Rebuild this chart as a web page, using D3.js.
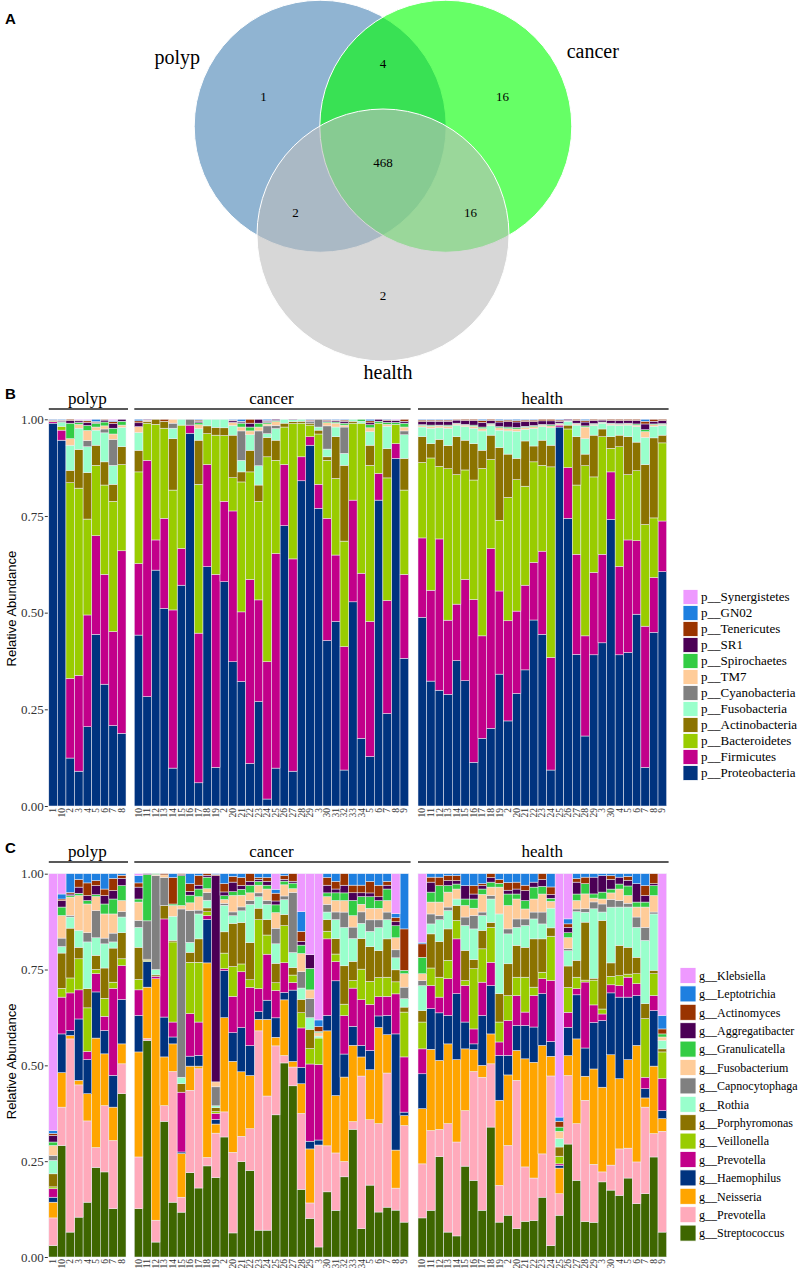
<!DOCTYPE html>
<html>
<head>
<meta charset="utf-8">
<script src="https://cdn.jsdelivr.net/npm/d3@7"></script>
<style>
  body { margin: 0; background: #fff; }
  svg { display: block; }
</style>
</head>
<body>
<svg id="fig" width="804" height="1280"></svg>
<script>
// ---------- data ----------
var groups = ['polyp', 'cancer', 'health']
var polypLabels = ['1','10','2','3','4','5','6','7','8']
var cancerLabels = ['10','11','12','13','14','15','16','17','18','19','2','20','21','22','23','24','25','26','27','28','29','3','30','31','32','33','34','5','6','7','8','9']
var healthLabels = ['10','11','12','13','14','15','16','17','18','19','2','20','21','22','23','24','25','26','27','28','29','3','30','4','5','6','7','8','9']
var sampleLabels = [polypLabels, cancerLabels, healthLabels]

// venn counts
var vennRegions = ['polyp', 'cancer', 'health', 'polyp&cancer', 'polyp&health', 'cancer&health', 'all']
var vennCounts = [1, 16, 2, 4, 2, 16, 468]

// panel B, phylum level (stacked bottom -> top)
var phyla = ['Proteobacteria','Firmicutes','Bacteroidetes','Actinobacteria','Fusobacteria','Cyanobacteria','TM7','Spirochaetes','SR1','Tenericutes','GN02','Synergistetes']
var phylumColors = ['#00337f','#c2008a','#99cc00','#8b7300','#99ffcc','#808080','#ffcc99','#33cc44','#4b0055','#993300','#1e7fe0','#ee99ff']

var proteobacteria = [
  .99,.946,.124,.09,.205,.444,.315,.208,.188,
  .442,.283,.61,.511,.098,.571,.964,.06,.619,.1,.58,.373,.322,.11,.27,.018,.098,.725,.09,.841,.933,.77,.428,.477,.093,.528,.175,.128,.791,.24,.899,.382,
  .49,.323,.3,.289,.376,.324,.113,.175,.201,.341,.22,.291,.352,.481,.444,.093,.98,.744,.392,.181,.391,.422,.741,.391,.397,.496,.1,.449,.606]
var firmicutes = [
  .004,.026,.206,.248,.289,.255,.284,.243,.472,
  .185,.611,.078,.233,.409,.095,.021,.387,.264,.499,.208,.39,.18,.476,.263,.355,.555,.158,.549,.062,.022,.062,.316,.172,.319,.263,.427,.349,.069,.293,.038,.217,
  .206,.235,.392,.192,.146,.262,.421,.265,.465,.215,.259,.213,.219,.149,.215,.291,.005,.131,.259,.259,.213,.229,.123,.229,.291,.19,.365,.142,.131]
var bacteroidetes = [
  .002,.01,.506,.484,.248,.182,.231,.337,.223,
  .237,.096,.299,.233,.31,.319,0,.385,.08,.36,.17,.086,.336,.278,.255,.53,.241,.097,.35,.087,.03,.13,.15,.198,.273,.199,.388,.404,.13,.318,.05,.218,
  .196,.342,.188,.392,.335,.283,.309,.433,.23,.183,.319,.34,.256,.26,.222,.493,0,.1,.179,.44,.247,.304,.061,.309,.169,.181,.263,.154,.202]
var actinobacteria = [
  0,0,.032,.1,.12,.052,.06,.044,.046,
  .056,.005,.013,.018,.133,0,0,.114,.02,.02,.02,.11,.026,.056,.042,.05,.052,.01,.005,.005,.005,.01,.009,.108,.196,.005,0,.052,0,.076,0,.082,
  .067,.037,.07,.06,.098,.077,.094,.047,.063,.188,.112,.055,.117,.041,.065,.056,0,.01,.125,.03,.108,.02,.03,.03,.098,.074,.155,.207,.02]
var fusobacteria = [
  0,.01,.065,.055,.067,.039,.075,.049,.05,
  .046,0,0,0,.027,.015,0,.03,.017,.021,.022,.025,.03,.04,.05,.01,.03,.01,.005,.005,0,.008,.02,.025,.031,.005,.005,.035,0,.058,0,.061,
  .025,.04,.03,.045,.03,.035,.04,.05,.025,.045,.06,.07,.03,.045,.035,.045,0,.01,.03,.04,.025,.015,.03,.025,.03,.04,.07,.03,.025]
var cyanobacteria = [
  0,0,0,0,.016,0,.01,.067,0,
  0,0,0,0,.013,0,.015,0,0,0,0,0,.076,0,.09,.02,.008,0,0,0,.005,.02,.06,0,.068,0,0,0,0,0,0,.01,
  0,0,0,0,0,0,0,0,0,0,0,0,0,0,0,0,0,0,0,0,0,0,0,0,0,0,0,0,0]
var tm7 = [
  0,0,.017,.01,.026,.008,.008,.014,.006,
  .015,.003,0,0,.01,0,0,.01,0,0,0,.008,.01,.01,.01,.005,.01,0,0,0,0,0,.008,.01,.005,0,0,.01,0,.005,0,.01,
  .004,.005,.005,.005,.003,.004,.005,.006,.003,.006,.006,.006,.005,.005,.004,.005,.003,.001,.003,.03,.003,.002,.003,.003,.003,.004,.015,.004,.003]
var spirochaetes = [
  0,.002,.04,.005,.013,.01,.01,.015,.01,
  0,0,0,0,0,0,0,.005,0,0,0,0,.01,.01,.01,.004,.003,0,0,0,0,0,.003,.003,.005,0,.005,.008,.005,.005,.005,.01,
  .002,.003,.002,.003,.002,.002,.003,.004,.002,.003,.004,.004,.003,.003,.002,.003,.002,.001,.002,.003,.002,.001,.002,.002,.002,.003,.005,.002,.002]
var sr1 = [
  .002,.002,.007,.004,.008,.002,.005,.012,.005,
  .01,.002,0,0,0,0,0,.004,0,0,0,.004,.003,.01,.01,.003,.003,0,.001,0,.002,0,.003,.003,.005,0,0,.005,.005,.005,.005,.005,
  .008,.01,.01,.01,.008,.01,.012,.012,.008,.012,.014,.014,.012,.01,.009,.01,.005,.003,.007,.01,.008,.005,.007,.008,.007,.009,.015,.007,.008]
var tenericutes = [
  .001,.002,.003,.002,.004,.002,.002,.005,0,
  .005,0,0,.005,0,0,0,.003,0,0,0,.002,.002,.01,0,.002,0,0,0,0,.002,0,.002,.002,.003,0,0,.005,0,.002,.001,.005,
  .004,.003,.003,.003,.002,.003,.003,.005,.003,.004,.004,.004,.004,.004,.004,.004,.003,0,.003,.004,.003,.002,.003,.003,.003,.003,.007,.005,.003]
var gn02 = [
  .001,.002,0,0,.002,.006,0,.003,0,
  .004,0,0,0,0,0,0,.002,0,0,0,.002,.005,0,0,.003,0,0,0,0,.001,0,.001,.002,.002,0,0,.004,0,.001,.001,0,
  .002,.002,.002,.002,0,0,0,.003,0,.003,.002,.003,.002,.002,0,0,.002,0,0,.003,0,0,0,0,0,0,.005,0,0]
var synergistetes = [
  0,0,0,.002,.002,0,0,.003,0,
  0,0,0,0,0,0,0,0,0,0,0,0,0,0,0,0,0,0,0,0,0,0,0,0,0,0,0,0,0,0,.001,0,
  0,0,0,0,0,0,0,0,0,0,0,0,0,0,0,0,0,0,0,0,0,0,0,0,0,0,0,0,0]
var phylumValues = [proteobacteria, firmicutes, bacteroidetes, actinobacteria, fusobacteria, cyanobacteria, tm7, spirochaetes, sr1, tenericutes, gn02, synergistetes]

// panel C, genus level (stacked bottom -> top); two different Prevotella entries
var genusKeys = ['Streptococcus','PrevotellaA','Neisseria','Haemophilus','PrevotellaB','Veillonella','Porphyromonas','Rothia','Capnocytophaga','Fusobacterium','Granulicatella','Aggregatibacter','Actinomyces','Leptotrichia','Klebsiella']
var genusNames = ['Streptococcus','Prevotella','Neisseria','Haemophilus','Prevotella','Veillonella','Porphyromonas','Rothia','Capnocytophaga','Fusobacterium','Granulicatella','Aggregatibacter','Actinomyces','Leptotrichia','Klebsiella']
var genusColors = ['#3e6600','#ffaabb','#ffa500','#00337f','#c2008a','#99cc00','#8b7300','#99ffcc','#808080','#ffcc99','#33cc44','#4b0055','#993300','#1e7fe0','#ee99ff']

var streptococcus = [
  .03,.291,.065,.104,.143,.235,.222,.126,.426,
  .126,.565,.039,.354,.143,.117,.22,.18,.237,.209,.316,.063,.244,.226,.07,.07,.365,.523,.456,.178,.1,.026,.17,.122,.209,.335,.074,.187,.117,.13,.117,.091,
  .102,.122,.262,.065,.055,.237,.2,.122,.339,.091,.109,.074,.093,.095,.156,.03,.109,.295,.2,.093,.091,.196,.174,.161,.206,.139,.165,.261,.065]
var prevotellaA = [
  .072,.1,.504,.345,.212,.052,.173,.178,.078,
  .135,.005,.057,.041,.341,.039,.215,.311,.022,.117,.066,.211,.065,.109,.52,.35,.177,.02,.05,.2,.04,.265,.12,.15,.04,.02,.4,.17,.23,.35,.055,.252,
  .141,.208,.071,.283,.245,.145,.284,.347,.165,.096,.182,.387,.142,.111,.113,.448,.056,.179,.148,.318,.152,.026,.065,.121,.078,.109,.226,.061,.263]
var neisseria = [
  .041,.09,.009,.012,.071,.287,.135,.087,.052,
  .274,.134,.63,.127,.072,.114,.063,.007,.506,.024,.248,.238,.165,.139,.03,.2,.022,.15,.015,.078,.14,0,.3,.15,.22,.2,.05,.13,.25,.1,.095,.026,
  .144,.212,.18,.208,.215,.161,.057,.031,.078,.222,.184,.078,.282,.302,.283,.052,.067,.052,.221,.063,.25,.221,.287,.183,.231,.304,.024,.176,.033]
var haemophilus = [
  .013,.101,.013,.16,.089,.121,.061,.083,.116,
  .095,.067,0,.104,.018,.004,.026,.028,.113,.012,.124,.075,.113,.078,.02,.05,.05,.02,.19,.043,.02,.013,.04,.3,.06,.05,.03,.05,.03,.05,.29,.009,
  .091,.106,.124,.074,.172,.07,.015,.13,.126,.117,.051,.065,.087,.092,.135,.039,.007,.074,.115,.074,.122,.174,.161,.213,.163,.13,.024,.145,.021]
var prevotellaB = [
  .022,.096,.098,.076,.021,.048,.037,.227,.088,
  .067,0,.006,.256,.039,.156,.111,.087,.01,.016,.005,.095,.143,.152,.06,.12,.07,.08,.02,.104,.2,.196,.2,.05,.1,.1,.12,.12,.05,.05,.1,.144,
  .065,.06,.041,.096,.143,.095,.039,.087,.061,.035,.091,.078,.035,.082,.039,.161,.004,.039,.016,.173,.046,.017,.021,.03,.052,.031,.03,.039,.083]
var veillonella = [
  .005,.023,.039,.081,.114,.011,.047,.016,.018,
  .027,.003,0,0,.209,0,.134,.156,.01,.005,.041,.078,.02,.02,.18,.05,.02,.1,.02,.04,.04,.069,.02,.02,.03,.02,.08,.06,.05,.05,.03,.117,
  .07,.046,.052,.048,.048,.013,.157,.087,.091,.052,.065,.048,.091,.022,.017,.117,.02,.065,.03,.005,.065,.013,.022,.026,.008,.026,.153,.057,.07]
var porphyromonas = [
  .034,.092,.13,.03,.05,.037,.079,.089,.068,
  .084,.003,.004,.035,.004,.022,.026,.061,.01,.01,.056,.113,.106,.097,.03,.04,.05,.03,.02,.035,.05,0,.03,.04,.1,.05,.08,.09,.07,.1,.03,.013,
  .03,.089,.093,.082,.039,.079,.024,.048,.013,.074,.083,.083,.078,.126,.087,.022,.024,.056,.044,.152,.005,.231,.035,.079,.07,.043,.039,.009,.008]
var rothia = [
  .035,.017,.029,.044,.122,.046,.063,.016,.041,
  .052,0,.014,0,.063,.017,.026,.065,.02,.005,.07,.02,.03,.1,.03,.04,.05,.04,.04,.03,.03,.005,.02,.05,.1,.06,.04,.04,.06,.05,.03,.022,
  .065,.026,.057,.048,.017,.065,.08,.039,.061,.208,.078,.047,.057,.052,.039,.052,.022,.04,.127,.026,.182,.022,.145,.1,.105,.078,.165,.147,.022]
var capnocytophaga = [
  .013,.022,.004,0,.024,.071,.015,.023,.014,
  .018,.1,.245,.073,0,.439,.083,.01,.02,.05,.005,.01,.01,.01,.01,.01,.04,.01,.16,.043,.05,0,.02,.02,.04,.03,.03,.03,.02,.02,.02,.03,
  .013,.026,.011,.009,0,.022,.035,.009,.009,0,.013,.022,.017,.018,.031,0,0,.005,.007,.009,.018,.021,.02,.017,.01,.027,.034,.005,0]
var fusobacterium = [
  .026,.059,.048,.091,.075,.037,.063,.05,.029,
  .048,0,.003,.007,.028,.009,.02,.035,.01,.013,.01,.043,.03,.02,.02,.03,.04,.03,.01,.048,.022,.009,.02,.03,.03,.03,.02,.03,.03,.03,.03,.035,
  .018,.031,.035,.039,.026,.03,.019,.046,.022,.07,.061,.052,.026,.034,.047,.018,.019,.029,.022,.039,.01,.013,.017,.03,.02,.026,.053,.043,.009]
var granulicatella = [
  .009,.022,.004,.006,.009,.005,.026,.039,.039,
  .008,.121,.002,0,.004,.078,.02,.02,.03,0,.01,.01,.015,.02,.01,.01,.02,.01,.015,.022,.056,.003,.01,.02,.02,.04,.02,.03,.02,.03,.03,.009,
  .043,.026,.043,.017,.013,.017,.024,.014,.013,.01,.03,.013,.022,.031,.02,.008,.011,.013,.017,.027,.011,.018,.01,.013,.025,.013,.013,.026,.008]
var aggregatibacter = [
  .017,.017,.004,.016,.013,.024,.022,.022,.019,
  .031,.002,0,0,0,.003,.01,.01,.005,.543,.01,.025,.01,.01,.005,.01,.01,.005,.005,.01,.035,0,.02,.01,.02,.02,.01,.01,.01,.01,.01,0,
  0,.026,0,.013,.009,.035,.013,.009,.012,0,.01,.013,.026,.013,.018,.01,0,.014,.031,0,.044,.043,.025,.018,.015,.048,.017,.005,0]
var actinomyces = [
  .005,.004,.004,.02,.033,.013,.017,.032,.008,
  .011,0,0,.003,.069,.002,.02,.025,.004,.003,.022,.015,.02,.02,.005,.01,.02,.01,.02,.026,0,.013,.02,.02,.03,.02,.02,.03,.03,.01,.01,.108,
  .035,.013,.022,.013,.013,0,.022,.005,.01,.01,.02,.018,.014,0,.015,.02,.015,.009,.009,.017,0,0,.01,0,.01,0,.026,.026,.013]
var leptotrichia = [
  .008,.013,.049,.015,.024,.018,.04,.012,.004,
  .019,0,0,0,.01,0,.026,.005,0,.002,.026,.007,.01,0,.01,.01,.01,.005,0,.052,0,.017,.01,.02,0,.03,.03,.02,.03,.02,.01,.144,
  .004,.009,.009,.005,.005,.031,.031,.026,0,.015,.023,.022,.03,.022,0,.035,.011,.013,.013,.009,.009,.005,.005,.009,.007,.026,.031,0,.035]
var klebsiella = [
  .67,.053,0,0,0,0,0,0,0,
  .005,0,0,0,0,0,0,0,0,0,0,0,0,0,0,0,.04,0,0,.1,.21,.38,0,0,0,0,0,0,0,0,.1,0,
  .179,0,0,0,0,0,0,0,0,0,0,0,0,0,0,0,.635,.118,0,0,0,0,0,0,0,0,0,0,.37]
var genusValues = [streptococcus, prevotellaA, neisseria, haemophilus, prevotellaB, veillonella, porphyromonas, rothia, capnocytophaga, fusobacterium, granulicatella, aggregatibacter, actinomyces, leptotrichia, klebsiella]

// ---------- drawing ----------
var serif = '"Liberation Serif", "Times New Roman", serif'
var sans = '"Liberation Sans", Arial, sans-serif'
var svg = d3.select('#fig')

function letter(txt, y) {
  svg.append('text').attr('x', 5).attr('y', y)
    .style('font-family', sans).style('font-weight', 'bold').style('font-size', '15px')
    .text(txt)
}

// Panel A: three-set venn
letter('A', 24)
var vennCx = 383, vennCy = 162.5, vennSpread = 72.5, vennR = 126
var vennAngles = [210, 330, 90]
var vennFills = ['rgb(70,130,180)', 'rgb(0,255,0)', 'rgb(188,188,188)']
var vennNameOffsets = [[-143, -62], [147, -68], [5, 144]]
var setPos = vennAngles.map(function(a) {
  var r = a * Math.PI / 180
  return [vennCx + vennSpread * Math.cos(r), vennCy + vennSpread * Math.sin(r)]
})
var vennG = svg.append('g')
vennG.selectAll('circle').data(groups).enter().append('circle')
  .attr('cx', function(d, i) { return setPos[i][0] })
  .attr('cy', function(d, i) { return setPos[i][1] })
  .attr('r', vennR)
  .attr('fill', function(d, i) { return vennFills[i] })
  .attr('fill-opacity', 0.6)
  .attr('stroke', '#ffffff').attr('stroke-width', 1)

vennG.selectAll('text.setname').data(groups).enter().append('text')
  .attr('class', 'setname')
  .attr('x', function(d, i) { return setPos[i][0] + vennNameOffsets[i][0] })
  .attr('y', function(d, i) { return setPos[i][1] + vennNameOffsets[i][1] })
  .attr('text-anchor', 'middle')
  .style('font-family', serif).style('font-size', '20px')
  .text(function(d) { return d })

// region label placement: single sets outward, pairs opposite the missing set, centre for all
function regionPos(name) {
  var parts = name.split('&')
  if (name === 'all') return [vennCx, vennCy]
  if (parts.length === 1) {
    var a = vennAngles[groups.indexOf(name)] * Math.PI / 180
    return [vennCx + 138 * Math.cos(a), vennCy + 133 * Math.sin(a)]
  }
  var missing = groups.filter(function(g) { return parts.indexOf(g) < 0 })[0]
  var b = (vennAngles[groups.indexOf(missing)] + 180) * Math.PI / 180
  return [vennCx + 101 * Math.cos(b), vennCy + 99 * Math.sin(b)]
}
vennG.selectAll('text.count').data(vennRegions).enter().append('text')
  .attr('class', 'count')
  .attr('x', function(d) { return regionPos(d)[0] })
  .attr('y', function(d) { return regionPos(d)[1] + 4.5 })
  .attr('text-anchor', 'middle')
  .style('font-family', serif).style('font-size', '13px')
  .text(function(d, i) { return vennCounts[i] })

// Panels B and C: faceted stacked bars
var facetRanges = [[48.8, 126], [134.3, 408.6], [418, 666.6]]
var xs = facetRanges.map(function(r, gi) {
  return d3.scaleBand().domain(sampleLabels[gi]).range(r).padding(0)
})

function buildRows(keys, arrays) {
  var rows = [], idx = 0
  groups.forEach(function(g, gi) {
    sampleLabels[gi].forEach(function(lab) {
      var row = { gi: gi, label: lab }
      keys.forEach(function(k, j) { row[k] = arrays[j][idx] })
      rows.push(row)
      idx++
    })
  })
  return rows
}

function drawPanel(opt) {
  letter(opt.letter, opt.letterY)
  var y = d3.scaleLinear().domain([0, 1]).range([opt.bottom, opt.top])
  var g = svg.append('g')

  // facet headers
  groups.forEach(function(name, gi) {
    var r = facetRanges[gi]
    g.append('text').attr('x', (r[0] + r[1]) / 2).attr('y', opt.headY)
      .attr('text-anchor', 'middle')
      .style('font-family', serif).style('font-size', '17px')
      .text(name)
    g.append('line').attr('x1', r[0]).attr('x2', r[1] + 2)
      .attr('y1', opt.lineY).attr('y2', opt.lineY)
      .attr('stroke', '#222').attr('stroke-width', 1.3)
  })

  var rows = buildRows(opt.keys, opt.values)
  var layers = d3.stack().keys(opt.keys).offset(d3.stackOffsetExpand)(rows)

  g.selectAll('g.layer').data(layers).enter().append('g')
    .attr('class', 'layer')
    .attr('fill', function(d, j) { return opt.colors[j] })
    .selectAll('rect').data(function(d) { return d }).enter().append('rect')
    .attr('x', function(d) { return xs[d.data.gi](d.data.label) })
    .attr('width', function(d) { return xs[d.data.gi].bandwidth() })
    .attr('y', function(d) { return y(d[1]) })
    .attr('height', function(d) { return Math.max(0, y(d[0]) - y(d[1])) })
    .attr('stroke', '#eeeef6').attr('stroke-width', 0.5)

  // y axis
  var yAxis = d3.axisLeft(y).tickValues([0, 0.25, 0.5, 0.75, 1])
    .tickFormat(d3.format('.2f')).tickSize(3).tickPadding(1)
  var ya = g.append('g').attr('transform', 'translate(' + (facetRanges[0][0] - 1) + ',0)').call(yAxis)
  ya.select('.domain').remove()
  ya.selectAll('line').attr('stroke', '#333')
  ya.selectAll('text').style('font-family', serif).style('font-size', '13px').attr('fill', '#333')

  g.append('text')
    .attr('transform', 'translate(16,' + ((opt.top + opt.bottom) / 2 - 4) + ') rotate(-90)')
    .attr('text-anchor', 'middle')
    .style('font-family', sans).style('font-size', '13px')
    .text('Relative Abundance')

  // x axes, one per facet
  xs.forEach(function(x) {
    var xa = g.append('g').attr('transform', 'translate(0,' + opt.bottom + ')')
      .call(d3.axisBottom(x).tickSize(0))
    xa.select('.domain').remove()
    xa.selectAll('text')
      .attr('transform', 'rotate(-90)')
      .attr('x', -2).attr('y', 0).attr('dy', '0.33em')
      .style('text-anchor', 'end')
      .style('font-family', serif).style('font-size', '9.5px').attr('fill', '#333')
  })

  // legend, top entry = last stacked series
  var n = opt.keys.length
  var leg = g.append('g')
  d3.range(n).forEach(function(i) {
    var j = n - 1 - i
    var cy = opt.legFirst + i * opt.legStep
    leg.append('rect').attr('x', opt.legX).attr('y', cy - opt.keySize / 2)
      .attr('width', opt.keySize).attr('height', opt.keySize)
      .attr('fill', opt.colors[j]).attr('stroke', '#ffffff').attr('stroke-width', 0.8)
    leg.append('text').attr('x', opt.legX + opt.keySize + 3).attr('y', cy + 4.3)
      .style('font-family', serif).style('font-size', opt.legFont)
      .text(opt.prefix + opt.names[j])
  })
}

drawPanel({
  letter: 'B', letterY: 399, headY: 404, lineY: 409,
  top: 419.3, bottom: 806,
  keys: phyla, names: phyla, values: phylumValues, colors: phylumColors, prefix: 'p__',
  legX: 683, legFirst: 597, legStep: 16, keySize: 15, legFont: '13px'
})

drawPanel({
  letter: 'C', letterY: 853, headY: 857, lineY: 862,
  top: 873.7, bottom: 1257,
  keys: genusKeys, names: genusNames, values: genusValues, colors: genusColors, prefix: 'g__',
  legX: 680, legFirst: 975.5, legStep: 18.4, keySize: 16, legFont: '12px'
})
</script>
</body>
</html>
